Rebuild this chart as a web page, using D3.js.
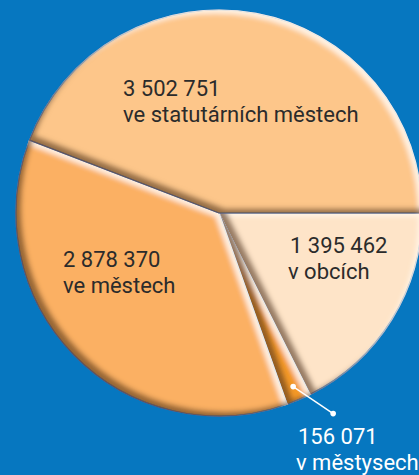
<!DOCTYPE html>
<html lang="cs">
<head>
    <meta charset="UTF-8">
    <title>Obyvatelé podle typu obce</title>
    <script src="https://cdnjs.cloudflare.com/ajax/libs/d3/7.8.5/d3.min.js"></script>
    <style>
        * { margin: 0; padding: 0; box-sizing: border-box; }
        body {
            background: #0677c0;
            width: 419px;
            height: 475px;
            overflow: hidden;
            font-family: Roboto, "Noto Sans", sans-serif;
        }
        .label { font-size: 22px; fill: #2b2b2b; }
        .label.outside { fill: #ffffff; }
    </style>
</head>
<body>
<div id="chart"></div>

<script>
    // Data (clockwise from 3 o'clock)
    const categories = ["v obcích", "v městysech", "ve městech", "ve statutárních městech"];
    const values = [1395462, 156071, 2878370, 3502751];
    const sliceColors = ["#fee4c8", "#f4992a", "#fbb063", "#fdc68a"];

    const width = 419;
    const height = 475;
    const cx = 219, cy = 213;
    const radius = 203;

    // where each text block starts, relative to the pie centre
    const labelOffsets = [[71, 40], [79, 231], [-156, 54], [-96, -117]];
    const secondLineShift = [-2, -2, 0, 0];

    const csLocale = d3.formatLocale({decimal: ",", thousands: " ", grouping: [3], currency: ["", ""]});
    const fmt = csLocale.format(",d");

    const svg = d3.select("#chart")
        .append("svg")
        .attr("width", width)
        .attr("height", height);

    // bevel: light edge on top-right, brown edge on bottom-left
    const defs = svg.append("defs");
    const f = defs.append("filter").attr("id", "bevel")
        .attr("x", "-10%").attr("y", "-10%").attr("width", "120%").attr("height", "120%");
    f.append("feGaussianBlur").attr("in", "SourceAlpha").attr("stdDeviation", 2.6).attr("result", "blur");
    f.append("feOffset").attr("in", "blur").attr("dx", -4).attr("dy", 4).attr("result", "offL");
    f.append("feComposite").attr("in", "SourceAlpha").attr("in2", "offL").attr("operator", "out").attr("result", "hiMask");
    f.append("feFlood").attr("flood-color", "#fff6ea").attr("flood-opacity", 0.9);
    f.append("feComposite").attr("in2", "hiMask").attr("operator", "in").attr("result", "hi");
    f.append("feOffset").attr("in", "blur").attr("dx", 5.5).attr("dy", -5.5).attr("result", "offD");
    f.append("feComposite").attr("in", "SourceAlpha").attr("in2", "offD").attr("operator", "out").attr("result", "shMask");
    f.append("feFlood").attr("flood-color", "#6b4520").attr("flood-opacity", 0.8);
    f.append("feComposite").attr("in2", "shMask").attr("operator", "in").attr("result", "sh");
    const merge = f.append("feMerge");
    merge.append("feMergeNode").attr("in", "SourceGraphic");
    merge.append("feMergeNode").attr("in", "hi");
    merge.append("feMergeNode").attr("in", "sh");

    const pie = d3.pie()
        .sort(null)
        .value(d => d)
        .startAngle(Math.PI / 2)
        .endAngle(Math.PI / 2 + 2 * Math.PI);

    const arcs = pie(values);

    const arc = d3.arc().innerRadius(0).outerRadius(radius);

    const g = svg.append("g").attr("transform", `translate(${cx},${cy})`);

    g.selectAll("path.slice")
        .data(arcs)
        .enter()
        .append("path")
        .attr("class", "slice")
        .attr("d", arc)
        .attr("fill", (d, i) => sliceColors[i])
        .attr("stroke", "#0677c0")
        .attr("stroke-width", 1.2)
        .attr("filter", "url(#bevel)");

    // leader for the small slice
    const small = arcs[1];
    const p0 = d3.arc().innerRadius(radius * 0.93).outerRadius(radius * 0.93).centroid(small);
    const p1 = [p0[0] + 40, p0[1] + 27];

    g.append("line")
        .attr("x1", p0[0]).attr("y1", p0[1])
        .attr("x2", p1[0]).attr("y2", p1[1])
        .attr("stroke", "#fff")
        .attr("stroke-width", 1.5);

    g.selectAll("circle.dot")
        .data([p0, p1])
        .enter()
        .append("circle")
        .attr("class", "dot")
        .attr("cx", d => d[0])
        .attr("cy", d => d[1])
        .attr("r", 2.8)
        .attr("fill", "#fff");

    // labels
    const labels = g.selectAll("text.label")
        .data(arcs)
        .enter()
        .append("text")
        .attr("class", (d, i) => i === 1 ? "label outside" : "label")
        .attr("x", (d, i) => labelOffsets[i][0])
        .attr("y", (d, i) => labelOffsets[i][1]);

    labels.append("tspan")
        .attr("x", (d, i) => labelOffsets[i][0])
        .text(d => fmt(d.data));

    labels.append("tspan")
        .attr("x", (d, i) => labelOffsets[i][0] + secondLineShift[i])
        .attr("dy", 26)
        .text((d, i) => categories[i]);
</script>
</body>
</html>
